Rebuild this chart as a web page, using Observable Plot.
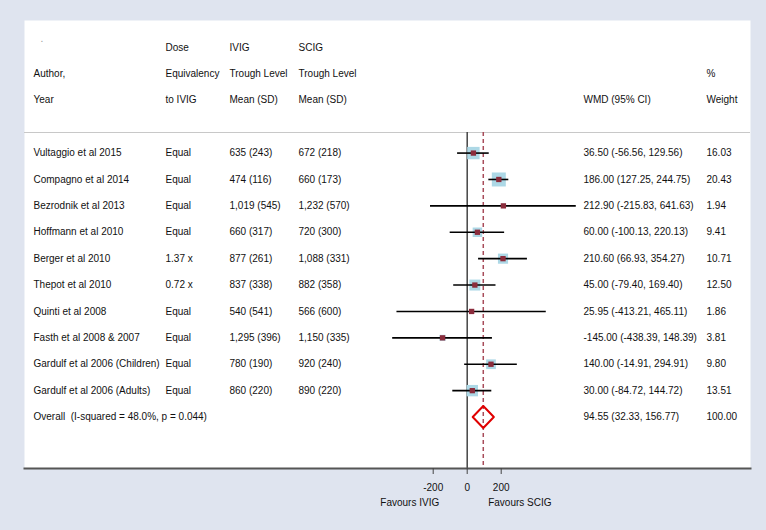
<!DOCTYPE html>
<html>
<head>
<meta charset="utf-8">
<script src="https://cdn.jsdelivr.net/npm/d3@7"></script>
<script src="https://cdn.jsdelivr.net/npm/@observablehq/plot@0.6"></script>
<style>
  html, body { margin: 0; padding: 0; background: #dfe4ef; }
  #chart { width: 766px; height: 530px; }
</style>
</head>
<body>
<div id="chart"></div>
<script>
// ---- data ----
const authors = [
  "Vultaggio et al 2015",
  "Compagno et al 2014",
  "Bezrodnik et al 2013",
  "Hoffmann et al 2010",
  "Berger et al 2010",
  "Thepot et al 2010",
  "Quinti et al 2008",
  "Fasth et al 2008 & 2007",
  "Gardulf et al 2006 (Children)",
  "Gardulf et al 2006 (Adults)"
];
const dose = ["Equal", "Equal", "Equal", "Equal", "1.37 x", "0.72 x", "Equal", "Equal", "Equal", "Equal"];
const ivig = ["635 (243)", "474 (116)", "1,019 (545)", "660 (317)", "877 (261)", "837 (338)", "540 (541)", "1,295 (396)", "780 (190)", "860 (220)"];
const scig = ["672 (218)", "660 (173)", "1,232 (570)", "720 (300)", "1,088 (331)", "882 (358)", "566 (600)", "1,150 (335)", "920 (240)", "890 (220)"];
const wmd = [36.50, 186.00, 212.90, 60.00, 210.60, 45.00, 25.95, -145.00, 140.00, 30.00];
const lo = [-56.56, 127.25, -215.83, -100.13, 66.93, -79.40, -413.21, -438.39, -14.91, -84.72];
const hi = [129.56, 244.75, 641.63, 220.13, 354.27, 169.40, 465.11, 148.39, 294.91, 144.72];
const weight = [16.03, 20.43, 1.94, 9.41, 10.71, 12.50, 1.86, 3.81, 9.80, 13.51];

const overallLabel = "Overall  (I-squared = 48.0%, p = 0.044)";
const overallEst = 94.55, overallLo = 32.33, overallHi = 156.77, overallWeight = 100.00;

const titleMark = ".";
const header1 = {author: "", dose: "Dose", ivig: "IVIG", scig: "SCIG", wmd: "", weight: ""};
const header2 = {author: "Author,", dose: "Equivalency", ivig: "Trough Level", scig: "Trough Level", wmd: "", weight: "%"};
const header3 = {author: "Year", dose: "to IVIG", ivig: "Mean (SD)", scig: "Mean (SD)", wmd: "WMD (95% CI)", weight: "Weight"};

const xTicks = [-200, 0, 200];
const favours = ["Favours IVIG", "Favours SCIG"];

// ---- table ----
const f2 = v => v.toFixed(2);
const studies = authors.map((a, i) => ({
  row: i + 4,
  author: a, dose: dose[i], ivig: ivig[i], scig: scig[i],
  est: wmd[i], lo: lo[i], hi: hi[i], w: weight[i],
  wmd: `${f2(wmd[i])} (${f2(lo[i])}, ${f2(hi[i])})`,
  weight: f2(weight[i])
}));
const overall = {row: 14, author: overallLabel, dose: "", ivig: "", scig: "",
  wmd: `${f2(overallEst)} (${f2(overallLo)}, ${f2(overallHi)})`, weight: f2(overallWeight)};
const headers = [header1, header2, header3].map((h, i) => ({...h, row: i}));
const textRows = [...headers, ...studies, overall];

const halfH = 0.417;
const diamond = [
  {x: overallLo, y: overall.row},
  {x: overallEst, y: overall.row - halfH},
  {x: overallHi, y: overall.row},
  {x: overallEst, y: overall.row + halfH},
  {x: overallLo, y: overall.row}
];

const sepRow = 3.22, bottomRow = 15.95;

const cols = [
  {key: "author", dx: 9},
  {key: "dose", dx: 141},
  {key: "ivig", dx: 205},
  {key: "scig", dx: 274},
  {key: "wmd", dx: 559},
  {key: "weight", dx: 682}
];

const textMarks = cols.map(c => Plot.text(textRows, {
  y: "row", text: c.key, frameAnchor: "left", dx: c.dx, textAnchor: "start", fill: "#111"
}));

const chart = Plot.plot({
  width: 766,
  height: 530,
  marginLeft: 24,
  marginRight: 16,
  marginTop: 20,
  marginBottom: 62,
  style: {fontFamily: "'Liberation Sans', Arial, sans-serif", fontSize: "10px", background: "transparent"},
  x: {type: "linear", domain: [-200, 200], range: [432.7, 500.7]},
  y: {type: "linear", domain: [-1.023, bottomRow], reverse: true, axis: null},
  r: {type: "sqrt", domain: [0, 20.43], range: [0, 7.9]},
  marks: [
    Plot.frame({fill: "white", stroke: null}),
    Plot.ruleY([sepRow], {stroke: "#c8c8c8", strokeWidth: 1}),
    Plot.ruleX([0], {y1: sepRow, y2: bottomRow, stroke: "#444", strokeWidth: 1.5}),
    Plot.ruleX([overallEst], {y1: sepRow, y2: bottomRow, stroke: "#a84c5a", strokeWidth: 1.5, strokeDasharray: "4,3"}),
    Plot.dot(studies, {x: "est", y: "row", r: "w", symbol: "square", fill: "#add8e6", stroke: null}),
    Plot.ruleY(studies, {y: "row", x1: "lo", x2: "hi", stroke: "#000", strokeWidth: 1.6}),
    Plot.dot(studies, {x: "est", y: "row", r: 3, symbol: "square", fill: "#8b2c3c", stroke: null}),
    Plot.line(diamond, {x: "x", y: "y", stroke: "#e00000", strokeWidth: 2, curve: "linear"}),
    ...textMarks,
    Plot.text([titleMark], {frameAnchor: "top-left", dx: 16, dy: 14, fill: "#999", textAnchor: "start"}),
    Plot.frame({anchor: "bottom", stroke: "#555", strokeWidth: 2}),
    Plot.axisX({ticks: xTicks, tickSize: 6, tickPadding: 9, tickFormat: d => String(d), stroke: "#444", fill: "#111", fontSize: 10}),
    Plot.text([favours[0]], {x: 0, frameAnchor: "bottom", dy: 37, dx: -28, textAnchor: "end", fill: "#111"}),
    Plot.text([favours[1]], {x: 0, frameAnchor: "bottom", dy: 37, dx: 21, textAnchor: "start", fill: "#111"})
  ]
});
document.getElementById("chart").appendChild(chart);
</script>
</body>
</html>
